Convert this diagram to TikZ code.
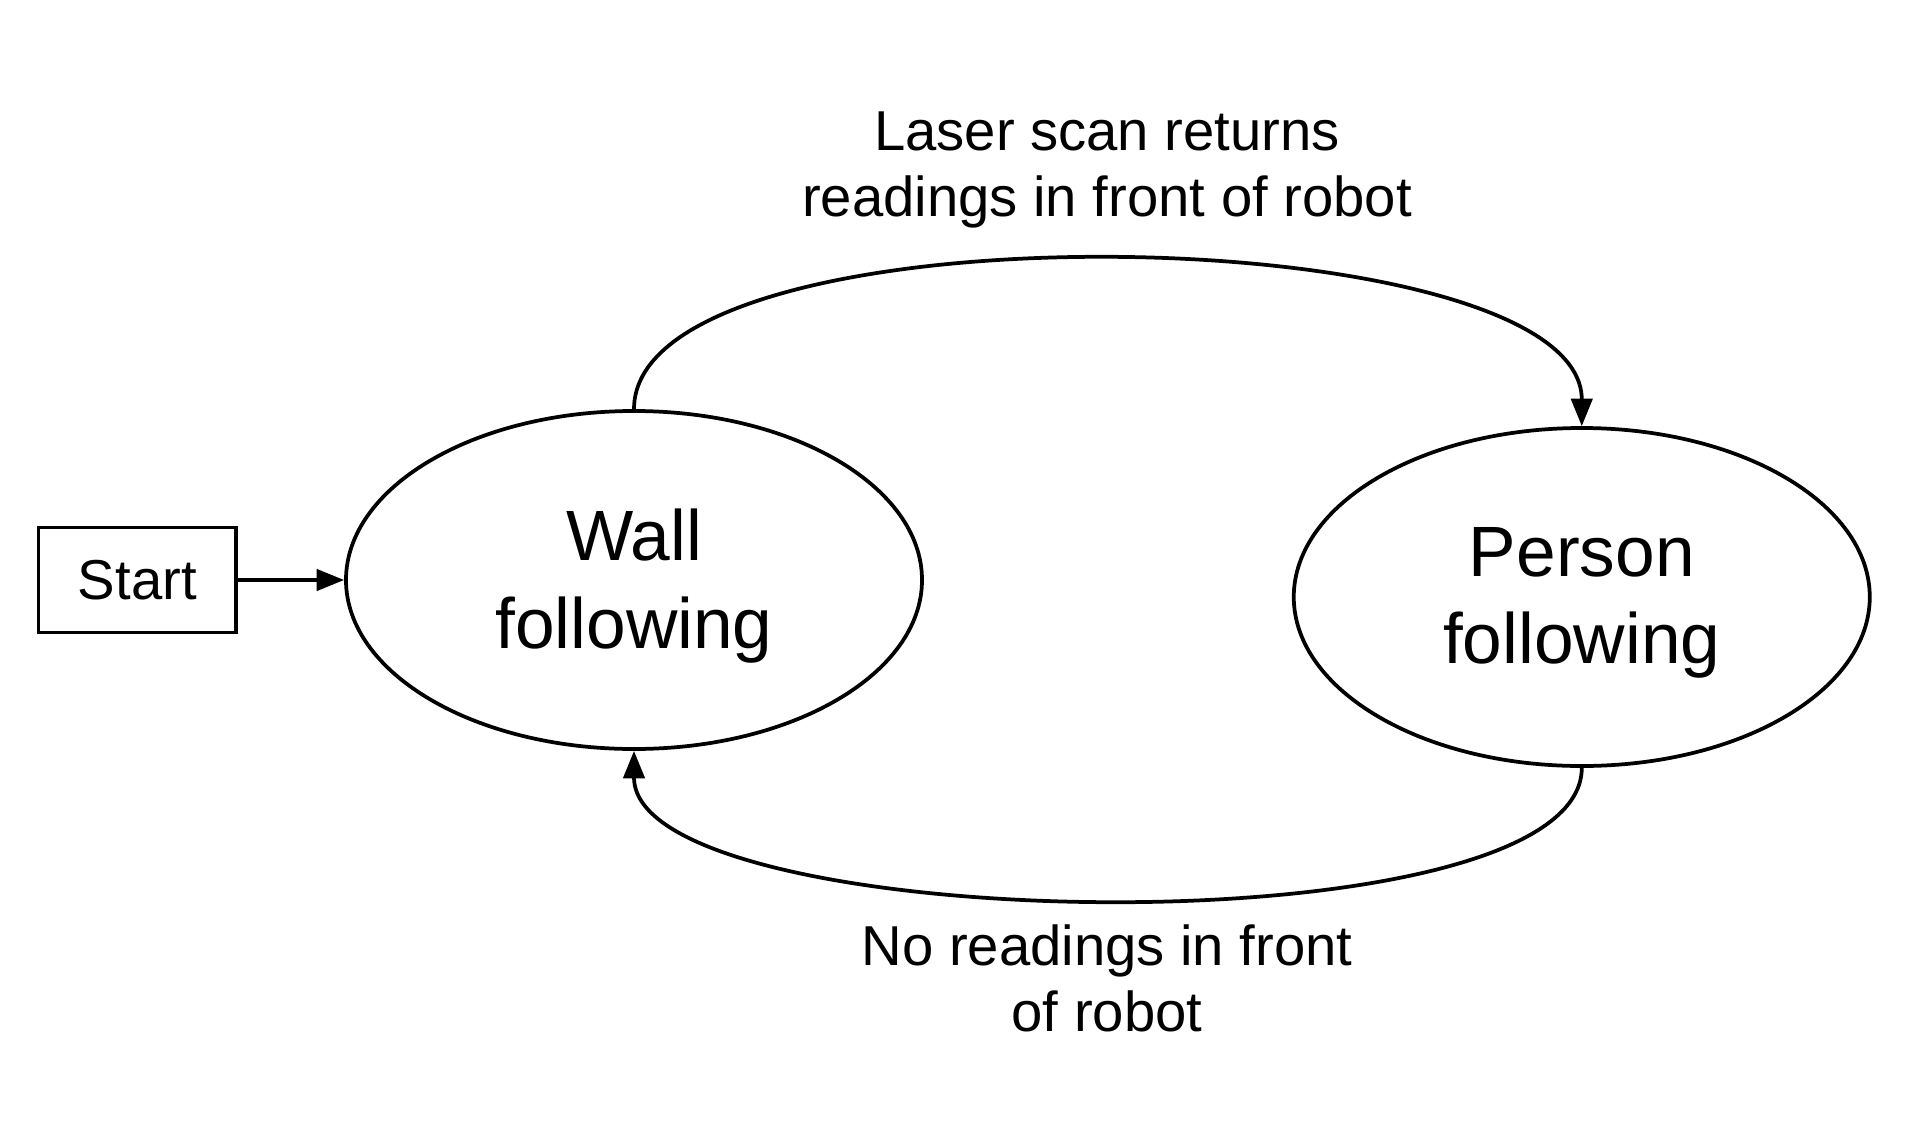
\documentclass[tikz,border=0pt]{standalone}
\usepackage{fontspec}
\setmainfont{Liberation Sans}
\usetikzlibrary{shapes,arrows.meta,positioning}

\begin{document}
\begin{tikzpicture}[
    x=0.4pt, y=-0.4pt,
    state/.style={ellipse, draw, line width=1.5pt, minimum width=230.4pt, minimum height=135.2pt, inner sep=0pt, align=center, text depth=1.2pt, font=\fontsize{28.5}{35}\selectfont},
    startbox/.style={rectangle, draw, line width=1.4pt, minimum width=79pt, minimum height=42pt, inner sep=0pt, font=\fontsize{22.5}{28}\selectfont},
    arrow/.style={-{Triangle[length=11pt,width=8.5pt]}, line width=1.5pt},
    edgelabel/.style={align=center, font=\fontsize{22.5}{26.4}\selectfont}
]
    \useasboundingbox (0,0) rectangle (1905,1146);

    % States
    \node[state] (wall) at (634,580) {Wall\\following};
    \node[state, right=147.2pt of wall, yshift=-6.8pt] (person) {Person\\following};
    \node[startbox, left=42.5pt of wall] (start) {Start};

    % Labels
    \node[edgelabel] (toplabel) at (1107,170) {Laser scan returns\\readings in front of robot};
    \node[edgelabel] (botlabel) at (1107,978) {No readings in front\\of robot};

    % Arrows
    \draw[arrow] (start) -- (wall);
    \draw[arrow] (wall.north) .. controls +(0,-210) and +(0,-210) .. (person.north);
    \draw[arrow] (person.south) .. controls +(0,186) and +(0,186) .. (wall.south);

\end{tikzpicture}
\end{document}
